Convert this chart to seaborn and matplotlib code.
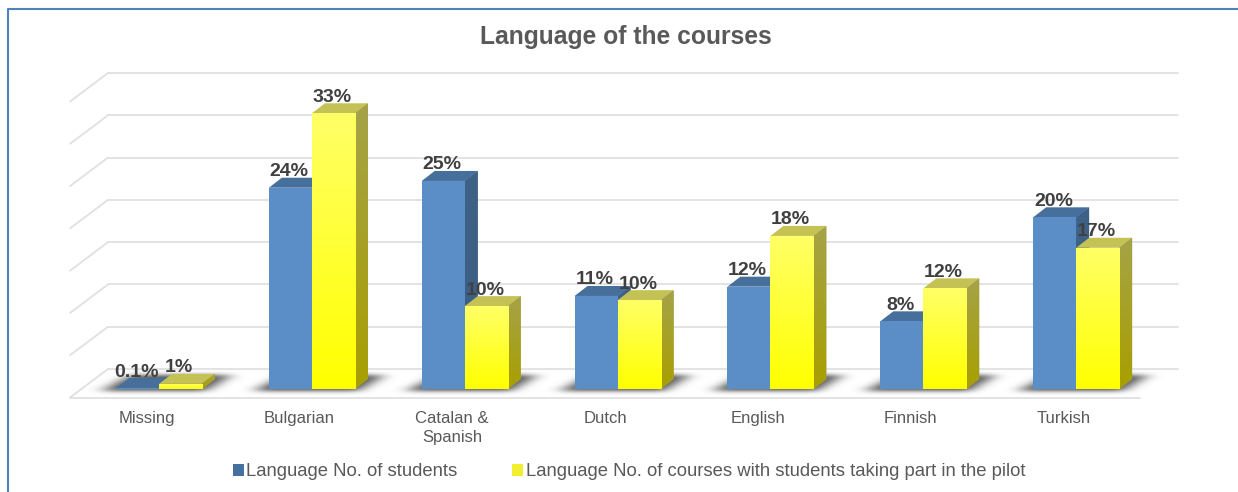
import numpy as np
import pandas as pd
import matplotlib
matplotlib.use('Agg')
import matplotlib.pyplot as plt
import seaborn as sns
from matplotlib.patches import Polygon
from matplotlib.colors import LinearSegmentedColormap

categories = ['Missing', 'Bulgarian', 'Catalan &\nSpanish', 'Dutch', 'English', 'Finnish', 'Turkish']
students = [0.1, 23.8, 24.6, 11.0, 12.1, 8.0, 20.3]
courses = [0.6, 32.6, 9.8, 10.5, 18.1, 11.9, 16.7]
students_labels = ['0.1%', '24%', '25%', '11%', '12%', '8%', '20%']
courses_labels = ['1%', '33%', '10%', '10%', '18%', '12%', '17%']
series = ['Language No. of students',
          'Language No. of courses with students taking part in the pilot']
grid_ticks = [0, 5, 10, 15, 20, 25, 30, 35]

df = pd.DataFrame({
    'cat': categories * 2,
    'share': students + courses,
    'series': [series[0]] * 7 + [series[1]] * 7,
})

sns.set_theme(style='white')
plt.rcParams['font.family'] = ['Liberation Sans', 'DejaVu Sans']

W, H = 1238, 492
fig = plt.figure(figsize=(W / 100, H / 100), dpi=100)
# axes = plane of the bar fronts
ax = fig.add_axes([82.6 / W, (H - 389) / H, 1070 / W, 296 / H])
ax.patch.set_alpha(0)

blue, yellow = '#5B8EC6', '#FFFF00'
sns.barplot(data=df, x='cat', y='share', hue='series', hue_order=series,
            palette=[blue, yellow], width=0.563, gap=0, ax=ax, zorder=3,
            saturation=1, edgecolor='none')
ax.set_xlabel('')
ax.set_ylabel('')
sns.despine(ax=ax, left=True, bottom=True)
ax.set_yticks([])

# depth of the fake 3d box, in data units
px_x, px_y = 1 / 152.86, 1 / 8.457
front_dx, front_dy = -12.5 * px_x, -8.5 * px_y
back_dx, back_dy = 25.4 * px_x, 20 * px_y
bar_dx, bar_dy = 13 * px_x, 10 * px_y

grid_c = '#E0E0E0'
for t in grid_ticks:
    # back wall line and left wall line
    ax.plot([-0.5 + back_dx, 6.5 + back_dx], [t + back_dy, t + back_dy],
            color=grid_c, lw=1.3, clip_on=False, zorder=1)
    ax.plot([-0.5 + front_dx, -0.5 + back_dx], [t + front_dy, t + back_dy],
            color=grid_c, lw=1.3, clip_on=False, zorder=1)
ax.plot([-0.5 + front_dx, 6.5 + front_dx], [front_dy, front_dy],
        color=grid_c, lw=1.3, clip_on=False, zorder=1)


def gradient(x0, x1, y0, y1, c_top, c_bottom, clip, z):
    cmap = LinearSegmentedColormap.from_list('g', [c_top, c_bottom])
    im = ax.imshow(np.linspace(0, 1, 64).reshape(-1, 1), extent=(x0, x1, y0, y1),
                   cmap=cmap, aspect='auto', zorder=z, origin='upper')
    im.set_clip_path(clip)


def face(points, color, z):
    p = Polygon(points, closed=True, facecolor=color, edgecolor='none', zorder=z, clip_on=False)
    ax.add_patch(p)
    return p


styles = [
    {'top': '#466F9C', 'side_top': '#3F6289', 'side_bot': '#3B5D83', 'z': 3},
    {'top': '#C4C155', 'side_top': '#A5A348', 'side_bot': '#A89F00', 'z': 5},
]

# soft floor shadow, one blurred parallelogram per group
sx = np.linspace(-0.55, 7.0, 1154)
sy = np.linspace(-2.2, 3.8, 51)
xx, yy = np.meshgrid(sx, sy)
mask = np.zeros_like(xx)
y_lo, y_hi = -0.2, 1.7
frac = (yy - y_lo) / (y_hi - y_lo)
for bar in ax.containers[0]:
    x0 = bar.get_x()
    x1 = x0 + 2 * bar.get_width()
    left = x0 - 0.10 + frac * 0.20
    right = x1 + 0.02 + frac * 0.17
    mask[(yy >= y_lo) & (yy <= y_hi) & (xx >= left) & (xx <= right)] = 1
kernel_x = np.exp(-np.linspace(-2, 2, 45) ** 2)
kernel_x /= kernel_x.sum()
kernel_y = np.exp(-np.linspace(-2, 2, 13) ** 2)
kernel_y /= kernel_y.sum()
mask = np.apply_along_axis(lambda r: np.convolve(r, kernel_x, mode='same'), 1, mask)
mask = np.apply_along_axis(lambda c: np.convolve(c, kernel_y, mode='same'), 0, mask)
rgba = np.zeros(mask.shape + (4,))
rgba[..., :3] = 0.3
rgba[..., 3] = mask * 0.95
ax.imshow(rgba, extent=(sx[0], sx[-1], sy[0], sy[-1]), origin='lower', aspect='auto',
          zorder=1.5, clip_on=False, interpolation='bilinear')

for cont, st in zip(ax.containers, styles):
    z = st['z']
    for bar in cont:
        x0, w, h = bar.get_x(), bar.get_width(), bar.get_height()
        x1 = x0 + w
        bar.set_zorder(z + 1)
        # top and right side of the box
        face([(x0, h), (x1, h), (x1 + bar_dx, h + bar_dy), (x0 + bar_dx, h + bar_dy)], st['top'], z)
        side = face([(x1, 0), (x1 + bar_dx, bar_dy), (x1 + bar_dx, h + bar_dy), (x1, h)], st['side_top'], z)
        gradient(x1, x1 + bar_dx, 0, h + bar_dy, st['side_top'], st['side_bot'], side, z + 0.1)

# gradient on the yellow fronts
for bar in ax.containers[1]:
    x0, w, h = bar.get_x(), bar.get_width(), bar.get_height()
    gradient(x0, x0 + w, 0, h, '#FFFF66', '#FFFF00', bar, 6.5)

ax.set_xlim(-0.5, 6.5)
ax.set_ylim(0, 35)

# value labels
for cont, labs in zip(ax.containers, [students_labels, courses_labels]):
    for bar, lab in zip(cont, labs):
        ax.text(bar.get_x() + bar.get_width() / 2 - 0.008, bar.get_height() + 1.9, lab,
                ha='center', va='center', fontsize=14, fontweight='bold',
                color='#404040', zorder=10, clip_on=False)

ax.set_xticks(np.arange(7) + front_dx, categories)
ax.tick_params(axis='x', length=0, pad=16, labelsize=12, labelcolor='#595959')
for lab in ax.get_xticklabels():
    lab.set_linespacing(1.28)

handles, labels = ax.get_legend_handles_labels()
handles[0].set_facecolor('#44719F')
handles[1].set_facecolor('#F2EE30')
ax.legend(handles, labels, ncols=2, loc='center', bbox_to_anchor=(629 / W, (H - 472) / H),
          bbox_transform=fig.transFigure, frameon=False, fontsize=13.3,
          labelcolor='#595959', handlelength=0.6, handleheight=0.6, handletextpad=0.15,
          columnspacing=2.95, borderpad=0, borderaxespad=0)

fig.suptitle('Language of the courses', x=625.5 / W, y=(H - 37) / H, va='center',
             fontsize=17.7, fontweight='bold', color='#595959')

# frame of the screenshot, open to the right and at the bottom
fig.add_artist(plt.Line2D([8 / W, 8 / W, 1], [0, (H - 9) / H, (H - 9) / H],
                          color='#4F81BD', lw=1.5))

fig.savefig('out.png', dpi=100)
